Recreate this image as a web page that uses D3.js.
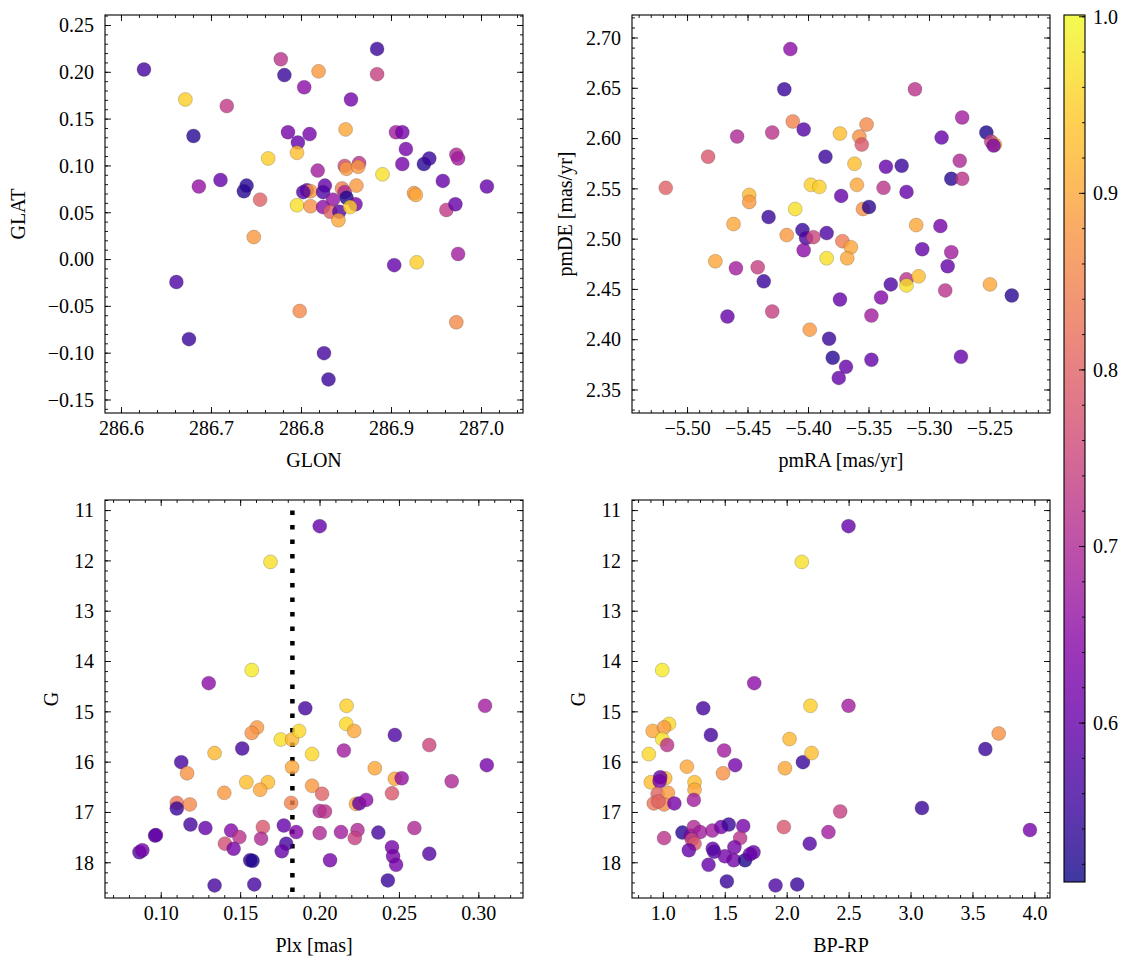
<!DOCTYPE html>
<html><head><meta charset="utf-8">
<script src="https://cdn.jsdelivr.net/npm/d3@7"></script>
<style>body{margin:0;background:#fff} svg text{font-family:"Liberation Serif","Times New Roman",serif;fill:#000}</style>
</head><body><svg id="c" width="1133" height="965"></svg>
<script>
// ---------- DATA ----------
// Panel 1: GLON vs GLAT
const glon = [286.625,286.671,286.680,286.717,286.686,286.710,286.736,286.739,286.754,286.747,286.763,286.777,286.781,286.785,286.796,286.795,286.803,286.809,286.819,286.849,286.855,286.884,286.884,286.890,286.905,286.912,286.916,286.912,286.903,286.928,286.925,286.927,286.936,286.942,286.957,286.961,286.971,286.972,286.974,286.974,286.972,287.006,286.798,286.825,286.830,286.661,286.675,
 286.818,286.848,286.850,286.864,286.863,286.806,286.810,286.802,286.826,286.824,286.845,286.848,286.861,286.850,286.835,286.860,286.795,286.810,286.824,286.832,286.842,286.841,286.854];
const glat = [0.203,0.171,0.132,0.164,0.078,0.085,0.073,0.079,0.064,0.024,0.108,0.214,0.197,0.136,0.125,0.114,0.184,0.134,0.201,0.139,0.171,0.225,0.198,0.091,0.136,0.136,0.118,0.102,-0.006,-0.003,0.071,0.069,0.102,0.108,0.084,0.053,0.059,0.112,0.108,0.006,-0.067,0.078,-0.055,-0.100,-0.128,-0.024,-0.085,
 0.095,0.100,0.097,0.103,0.099,0.074,0.073,0.072,0.079,0.072,0.076,0.072,0.079,0.066,0.064,0.059,0.058,0.057,0.056,0.051,0.051,0.042,0.056];
const probSky = [0.56,0.95,0.53,0.73,0.66,0.60,0.53,0.53,0.80,0.88,0.95,0.72,0.55,0.62,0.60,0.93,0.65,0.62,0.88,0.90,0.62,0.55,0.74,0.97,0.68,0.62,0.62,0.62,0.60,0.95,0.88,0.90,0.53,0.55,0.60,0.73,0.60,0.70,0.68,0.68,0.86,0.60,0.86,0.56,0.55,0.57,0.55,
 0.68,0.76,0.88,0.72,0.88,0.60,0.88,0.58,0.60,0.57,0.84,0.70,0.88,0.52,0.66,0.62,0.97,0.87,0.65,0.80,0.58,0.90,0.95];

// Panel 2: pmRA vs pmDE
const pmra = [-5.518,-5.483,-5.459,-5.430,-5.415,-5.420,-5.413,-5.404,-5.449,-5.449,-5.433,-5.462,-5.477,-5.460,-5.442,-5.437,-5.467,-5.430,-5.418,-5.411,-5.405,-5.402,-5.396,-5.404,-5.398,-5.391,-5.386,-5.385,-5.385,-5.374,-5.373,-5.372,-5.365,-5.368,-5.374,-5.362,-5.360,-5.358,-5.356,-5.352,-5.355,-5.350,-5.399,-5.383,-5.380,-5.369,-5.375,-5.348,-5.348,-5.340,-5.332,-5.336,-5.338,-5.323,-5.319,-5.312,-5.311,-5.319,-5.319,-5.309,-5.306,-5.290,-5.291,-5.287,-5.285,-5.282,-5.282,-5.273,-5.275,-5.273,-5.274,-5.253,-5.249,-5.246,-5.247,-5.250,-5.232];
const pmde = [2.551,2.582,2.602,2.606,2.689,2.649,2.617,2.609,2.544,2.537,2.522,2.515,2.478,2.471,2.472,2.458,2.423,2.428,2.504,2.530,2.509,2.501,2.502,2.489,2.554,2.552,2.582,2.506,2.481,2.605,2.543,2.498,2.492,2.481,2.440,2.575,2.554,2.602,2.594,2.614,2.530,2.532,2.410,2.401,2.382,2.373,2.362,2.380,2.424,2.442,2.455,2.572,2.551,2.573,2.547,2.649,2.514,2.460,2.454,2.463,2.490,2.601,2.513,2.449,2.473,2.487,2.560,2.560,2.578,2.621,2.383,2.606,2.597,2.594,2.593,2.455,2.444];
const probPM = [0.80,0.78,0.70,0.72,0.65,0.55,0.85,0.58,0.92,0.88,0.55,0.90,0.90,0.68,0.74,0.55,0.60,0.74,0.88,0.97,0.55,0.57,0.75,0.65,0.95,0.95,0.55,0.57,0.97,0.93,0.60,0.84,0.90,0.90,0.60,0.93,0.90,0.87,0.78,0.86,0.87,0.53,0.88,0.55,0.53,0.60,0.60,0.60,0.68,0.64,0.57,0.60,0.72,0.55,0.60,0.72,0.90,0.72,0.97,0.93,0.60,0.60,0.62,0.72,0.60,0.68,0.53,0.72,0.70,0.68,0.60,0.52,0.74,0.90,0.62,0.90,0.53];

// Panel 3: Plx vs G
const plx = [0.1998,0.1688,0.1570,0.1299,0.1907,0.2167,0.2165,0.2215,0.3039,0.2471,0.1603,0.1570,0.1753,0.1824,0.1868,0.1510,0.1336,0.1950,0.2150,0.2688,0.1126,0.1163,0.1824,0.2345,0.3050,0.2471,0.2514,0.2829,0.1536,0.1672,0.1623,0.1397,0.1950,0.2013,0.2453,0.1098,0.1180,0.1098,0.1818,0.1998,0.2031,0.2226,0.2247,0.2291,0.1184,0.1278,0.1440,0.1401,0.1492,0.1456,0.1640,0.1629,0.1772,0.1850,0.1787,0.1759,0.1560,0.1575,0.1336,0.1586,0.1998,0.2132,0.2236,0.2219,0.2063,0.2367,0.2594,0.2453,0.2460,0.2479,0.2427,0.2688,0.0863,0.0881,0.0961,0.0967];
const gPlx = [11.31,12.02,14.17,14.43,14.93,14.88,15.24,15.38,14.88,15.46,15.31,15.42,15.55,15.55,15.38,15.73,15.82,15.84,15.77,15.66,16.00,16.22,16.10,16.12,16.06,16.33,16.32,16.38,16.40,16.40,16.55,16.61,16.47,16.63,16.62,16.81,16.84,16.92,16.81,16.97,16.98,16.83,16.82,16.75,17.24,17.31,17.36,17.62,17.49,17.72,17.29,17.52,17.26,17.39,17.62,17.77,17.95,17.96,18.45,18.43,17.41,17.39,17.35,17.51,17.95,17.40,17.31,17.69,17.87,18.04,18.35,17.82,17.79,17.75,17.46,17.45];
const probPlx = [0.60,0.97,0.98,0.65,0.56,0.95,0.96,0.90,0.68,0.57,0.88,0.87,0.97,0.92,0.96,0.56,0.92,0.96,0.68,0.75,0.56,0.87,0.90,0.90,0.62,0.90,0.66,0.70,0.93,0.93,0.90,0.88,0.88,0.80,0.78,0.83,0.86,0.55,0.85,0.70,0.72,0.90,0.60,0.65,0.56,0.60,0.64,0.77,0.72,0.62,0.78,0.70,0.60,0.64,0.56,0.60,0.55,0.52,0.56,0.56,0.70,0.68,0.70,0.74,0.62,0.56,0.70,0.62,0.62,0.62,0.55,0.58,0.58,0.62,0.58,0.60];
const plxCut = 0.1826;

// Panel 4: BP-RP vs G
const bprp = [2.495,2.118,0.991,1.734,1.322,2.188,2.495,1.046,0.914,1.006,0.991,1.384,1.031,0.883,2.019,1.491,1.580,1.190,1.482,1.982,2.127,2.197,3.600,3.708,0.899,1.015,0.975,0.970,1.252,1.252,0.954,1.037,0.923,1.006,0.960,1.089,1.246,1.006,1.154,1.221,1.246,1.298,1.230,1.252,1.206,1.396,1.467,1.528,1.645,1.620,1.399,1.410,1.365,1.497,1.574,1.568,1.660,1.728,1.700,1.513,1.906,2.081,1.973,2.182,2.428,2.333,3.088,3.960];
const gCmd = [11.31,12.02,14.17,14.43,14.93,14.88,14.88,15.24,15.38,15.31,15.54,15.46,15.66,15.84,15.54,15.77,16.06,16.09,16.22,16.12,16.00,15.82,15.74,15.43,16.40,16.32,16.30,16.38,16.40,16.55,16.63,16.61,16.82,16.84,16.78,16.82,16.75,17.51,17.40,17.46,17.29,17.39,17.54,17.62,17.75,17.36,17.29,17.24,17.27,17.51,17.72,17.78,18.04,17.87,17.69,17.95,17.95,17.79,17.83,18.37,18.45,18.43,17.29,17.62,16.98,17.39,16.91,17.35];
const probCmd = [0.60,0.97,0.98,0.65,0.56,0.95,0.68,0.96,0.90,0.88,0.97,0.56,0.72,0.96,0.92,0.68,0.62,0.90,0.87,0.90,0.55,0.93,0.55,0.87,0.93,0.92,0.60,0.62,0.93,0.90,0.80,0.88,0.83,0.86,0.80,0.62,0.68,0.72,0.53,0.62,0.70,0.68,0.75,0.78,0.60,0.68,0.62,0.55,0.62,0.72,0.60,0.58,0.60,0.62,0.62,0.62,0.52,0.60,0.60,0.55,0.57,0.55,0.78,0.58,0.74,0.68,0.55,0.62];

// Tick values
const glonTicks = [286.6,286.7,286.8,286.9,287.0];
const glatTicks = [-0.15,-0.10,-0.05,0.00,0.05,0.10,0.15,0.20,0.25];
const pmraTicks = [-5.50,-5.45,-5.40,-5.35,-5.30,-5.25];
const pmdeTicks = [2.35,2.40,2.45,2.50,2.55,2.60,2.65,2.70];
const plxTicks = [0.10,0.15,0.20,0.25,0.30];
const gTicks = [11,12,13,14,15,16,17,18];
const bprpTicks = [1.0,1.5,2.0,2.5,3.0,3.5,4.0];
const cbTicks = [0.6,0.7,0.8,0.9,1.0];

// ---------- DRAW ----------
const svg = d3.select("#c");
const FS = 20;
const cmin = 0.51, cmax = 1.0;
const cnorm = d3.scaleLinear().domain([cmin, cmax]).range([0,1]).clamp(true);
const color = p => d3.interpolatePlasma(cnorm(p));

function minorVals(domain, step){
  const lo = Math.min(domain[0],domain[1]), hi = Math.max(domain[0],domain[1]);
  const out = [];
  for (let k = Math.ceil(lo/step - 1e-9); k*step <= hi + 1e-9; k++) out.push(+(k*step).toFixed(6));
  return out;
}

function panel(o){
  const g = svg.append("g");
  const x = d3.scaleLinear().domain(o.xd).range([o.x0, o.x1]);
  const y = d3.scaleLinear().domain(o.yd).range(o.yr);
  const top = Math.min(o.yr[0],o.yr[1]), bot = Math.max(o.yr[0],o.yr[1]);
  const cid = "clip"+o.id;
  svg.append("clipPath").attr("id",cid).append("rect").attr("x",o.x0).attr("y",top).attr("width",o.x1-o.x0).attr("height",bot-top);
  const pts = g.append("g").attr("clip-path",`url(#${cid})`);
  if (o.vline !== undefined){
    pts.append("line").attr("x1",x(o.vline)).attr("x2",x(o.vline)).attr("y1",y(11)).attr("y2",bot)
      .attr("stroke","#000").attr("stroke-width",4.5).attr("stroke-dasharray","4.5,10");
  }
  pts.selectAll("circle").data(o.xs.map((v,i)=>({x:v,y:o.ys[i],p:o.ps[i]}))).join("circle")
    .attr("cx",d=>x(d.x)).attr("cy",d=>y(d.y)).attr("r",7)
    .attr("fill",d=>color(d.p)).attr("fill-opacity",0.8)
    .attr("stroke","#333").attr("stroke-opacity",0.45).attr("stroke-width",0.5);
  const tk = g.append("g").attr("stroke","#000").attr("stroke-width",0.9);
  const xmin = minorVals(o.xd, o.xminor).filter(v=>x(v)>=o.x0&&x(v)<=o.x1);
  const ymin = minorVals(o.yd, o.yminor).filter(v=>y(v)>=top&&y(v)<=bot);
  xmin.forEach(v=>{ const px=x(v);
    tk.append("line").attr("x1",px).attr("x2",px).attr("y1",bot).attr("y2",bot-3);
    tk.append("line").attr("x1",px).attr("x2",px).attr("y1",top).attr("y2",top+3);});
  ymin.forEach(v=>{ const py=y(v);
    tk.append("line").attr("x1",o.x0).attr("x2",o.x0+3).attr("y1",py).attr("y2",py);
    tk.append("line").attr("x1",o.x1).attr("x2",o.x1-3).attr("y1",py).attr("y2",py);});
  o.xt.forEach(v=>{ const px=x(v);
    tk.append("line").attr("x1",px).attr("x2",px).attr("y1",bot).attr("y2",bot-6);
    tk.append("line").attr("x1",px).attr("x2",px).attr("y1",top).attr("y2",top+6);
    g.append("text").attr("x",px).attr("y",bot+22).attr("text-anchor","middle").attr("font-size",FS).text(d3.format(o.xf)(v));});
  o.yt.forEach(v=>{ const py=y(v);
    tk.append("line").attr("x1",o.x0).attr("x2",o.x0+6).attr("y1",py).attr("y2",py);
    tk.append("line").attr("x1",o.x1).attr("x2",o.x1-6).attr("y1",py).attr("y2",py);
    g.append("text").attr("x",o.x0-11).attr("y",py).attr("dy","0.34em").attr("text-anchor","end").attr("font-size",FS).text(d3.format(o.yf)(v));});
  g.append("rect").attr("x",o.x0).attr("y",top).attr("width",o.x1-o.x0).attr("height",bot-top)
    .attr("fill","none").attr("stroke","#000").attr("stroke-width",1.1);
  g.append("text").attr("x",(o.x0+o.x1)/2).attr("y",bot+54).attr("text-anchor","middle").attr("font-size",FS).text(o.xl);
  g.append("text").attr("transform",`translate(${o.ylx},${(top+bot)/2}) rotate(-90)`).attr("text-anchor","middle").attr("font-size",FS).text(o.yl);
}

panel({id:1,x0:105,x1:523,yr:[413,15],xd:[286.5817,287.0461],yd:[-0.1639,0.2612],xs:glon,ys:glat,ps:probSky,
  xt:glonTicks,yt:glatTicks,xf:".1f",yf:".2f",xminor:0.02,yminor:0.01,xl:"GLON",yl:"GLAT",ylx:25});
panel({id:2,x0:632,x1:1050,yr:[413,15],xd:[-5.5459,-5.2004],yd:[2.3271,2.7229],xs:pmra,ys:pmde,ps:probPM,
  xt:pmraTicks,yt:pmdeTicks,xf:".2f",yf:".2f",xminor:0.01,yminor:0.01,xl:"pmRA [mas/yr]",yl:"pmDE [mas/yr]",ylx:572});
panel({id:3,x0:105,x1:523,yr:[500,898],xd:[0.0646,0.3278],yd:[10.79,18.70],xs:plx,ys:gPlx,ps:probPlx,
  xt:plxTicks,yt:gTicks,xf:".2f",yf:"d",xminor:0.01,yminor:0.2,xl:"Plx [mas]",yl:"G",ylx:58,vline:plxCut});
panel({id:4,x0:632,x1:1050,yr:[500,898],xd:[0.747,4.122],yd:[10.79,18.70],xs:bprp,ys:gCmd,ps:probCmd,
  xt:bprpTicks,yt:gTicks,xf:".1f",yf:"d",xminor:0.1,yminor:0.2,xl:"BP-RP",yl:"G",ylx:585});

// ---------- COLORBAR ----------
const cb = {x:1064,w:21,top:15,bot:882};
const cy = d3.scaleLinear().domain([cmin, 1.001]).range([cb.bot, cb.top]);
const defs = svg.append("defs");
const grad = defs.append("linearGradient").attr("id","cbg").attr("x1",0).attr("y1",1).attr("x2",0).attr("y2",0);
d3.range(0,1.0001,0.02).forEach(t=>grad.append("stop").attr("offset",t).attr("stop-color",d3.interpolatePlasma(Math.min(1,t*(1.001-cmin)/(cmax-cmin)))));
svg.append("rect").attr("x",cb.x).attr("y",cb.top).attr("width",cb.w).attr("height",cb.bot-cb.top).attr("fill","url(#cbg)").attr("fill-opacity",0.8);
const ctk = svg.append("g").attr("stroke","#000").attr("stroke-width",0.9);
minorVals([0.52,1.0],0.02).filter(v=>cy(v)>=cb.top&&cy(v)<=cb.bot).forEach(v=>{
  ctk.append("line").attr("x1",cb.x+cb.w).attr("x2",cb.x+cb.w-3).attr("y1",cy(v)).attr("y2",cy(v));});
cbTicks.forEach(v=>{
  ctk.append("line").attr("x1",cb.x+cb.w).attr("x2",cb.x+cb.w-6).attr("y1",cy(v)).attr("y2",cy(v));
  svg.append("text").attr("x",cb.x+cb.w+8).attr("y",cy(v)).attr("dy","0.34em").attr("font-size",FS).text(d3.format(".1f")(v));});
svg.append("rect").attr("x",cb.x).attr("y",cb.top).attr("width",cb.w).attr("height",cb.bot-cb.top).attr("fill","none").attr("stroke","#000").attr("stroke-width",1.1);
</script></body></html>
